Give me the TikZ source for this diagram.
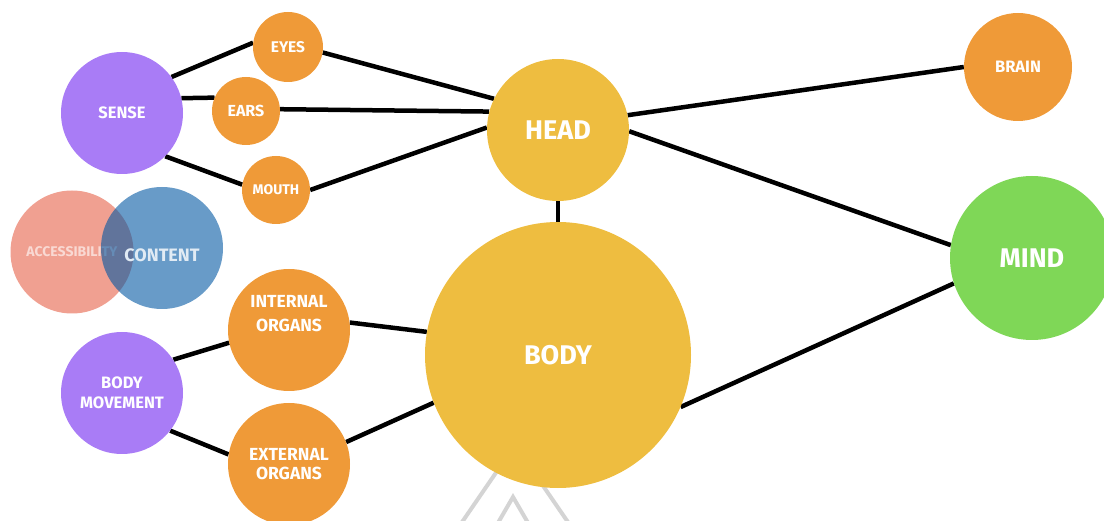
\documentclass[tikz,border=0pt]{standalone}
\usepackage{fontspec}
\setmainfont{Fira Sans}
\pgfdeclarelayer{background}
\pgfsetlayers{background,main}

\definecolor{orangeC}{RGB}{239,154,56}
\definecolor{yellowC}{RGB}{238,189,64}
\definecolor{purpleC}{RGB}{169,124,246}
\definecolor{greenC}{RGB}{127,215,87}
\definecolor{salmonC}{RGB}{240,160,145}
\definecolor{blueC}{RGB}{3,88,163}
\definecolor{markC}{RGB}{212,212,212}

\tikzset{
  bubble/.style={circle, inner sep=0pt, text=white, align=center,
                 font=\bfseries},
  link/.style={line width=4.5pt, black},
  logoline/.style={line width=4pt, markC}
}

\newcommand{\fs}[2]{\fontsize{#1}{#2}\selectfont}

\begin{document}
\begin{tikzpicture}[x=1pt, y=-1pt]
  \useasboundingbox (0,0) rectangle (1104,521);

  % main hubs
  \node[bubble, fill=yellowC, minimum size=142pt, font=\bfseries\fs{27}{32}] (head) at (558,130) {HEAD};
  \node[bubble, fill=yellowC, minimum size=266pt, font=\bfseries\fs{27}{32}] (body) at (558,355) {BODY};
  \node[bubble, fill=greenC, minimum size=164pt, font=\bfseries\fs{27}{32}] (mind) at (1032,258) {MIND};
  \node[bubble, fill=orangeC, minimum size=108pt, font=\bfseries\fs{16.5}{20}] (brain) at (1018,67) {BRAIN};

  % senses
  \node[bubble, fill=purpleC, minimum size=122pt, font=\bfseries\fs{16.5}{20}] (sense) at (122,113) {SENSE};
  \node[bubble, fill=orangeC, minimum size=70pt, font=\bfseries\fs{15.5}{18}] (eyes) at (288,47) {EYES};
  \node[bubble, fill=orangeC, minimum size=68pt, font=\bfseries\fs{16}{19}] (ears) at (246,111) {EARS};
  \node[bubble, fill=orangeC, minimum size=68pt, font=\bfseries\fs{14}{17}] (mouth) at (276,190) {MOUTH};

  % body parts
  \node[bubble, fill=purpleC, minimum size=122pt, font=\bfseries\fs{16.5}{20}] (move) at (122,393) {BODY\\MOVEMENT};
  \node[bubble, fill=orangeC, minimum size=122pt,
        label={[yshift=16pt, align=center, text=white,
                font=\bfseries\fs{17.5}{24}]center:{INTERNAL\\ORGANS}}] (inner) at (289,330) {};
  \node[bubble, fill=orangeC, minimum size=122pt, font=\bfseries\fs{17.5}{18.5}] (outer) at (289,464) {EXTERNAL\\ORGANS};

  % overlapping pair
  \node[bubble, fill=salmonC, minimum size=123pt, text=white, text opacity=0.6,
        font=\bfseries\fs{14}{17}] (access) at (72,252) {ACCESSIBILITY};
  \node[bubble, fill=blueC, fill opacity=0.6, minimum size=122pt,
        label={[yshift=-7pt, text=white!88!blueC, text opacity=1,
                font=\bfseries\fs{18}{21}]center:CONTENT}] (content) at (162,248) {};

  \begin{pgfonlayer}{background}
    % faint triangle mark under the body
    \coordinate (tA) at (515,445);
    \coordinate (tL) at (458,528);
    \coordinate (tR) at (572,528);
    \coordinate (iA) at (513,497);
    \coordinate (iL) at (495,528);
    \coordinate (iR) at (531,528);
    \draw[logoline] (tL) -- (tA) -- (tR);
    \draw[logoline] (iL) -- (iA) -- (iR);

    % connectors
    \draw[link] (sense.36)  -- (eyes.173);
    \draw[link] (sense.14)  -- (ears.157);
    \draw[link] (sense.-45) -- (mouth.171);
    \draw[link] (eyes.-9)   -- (head.154);
    \draw[link] (ears.3)    -- (head.165);
    \draw[link] (mouth.0)   -- (head.178);
    \draw[link] (head.12)   -- (brain.180);
    \draw[link] (head.-1)   -- (mind.171);
    \draw[link] (head.-90)  -- (body.90);
    \draw[link] (body.-23)  -- (mind.198);
    \draw[link] (inner.7)   -- (body.170);
    \draw[link] (outer.21)  -- (body.201);
    \draw[link] (move.33)   -- (inner.192);
    \draw[link] (move.-38)  -- (outer.171);
  \end{pgfonlayer}
\end{tikzpicture}
\end{document}
